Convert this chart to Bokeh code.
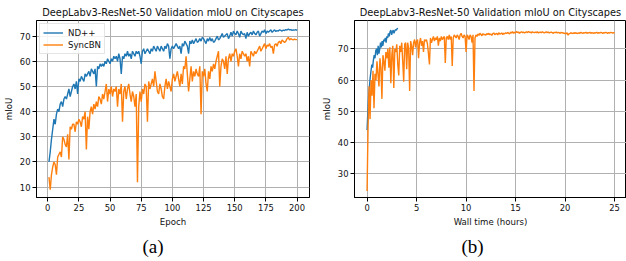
import numpy as np
from bokeh.plotting import figure
from bokeh.layouts import row
from bokeh.models import Range1d, FixedTicker, Title
from bokeh.embed import file_html
from bokeh.resources import INLINE

# ---------------- data ----------------
title_text = "DeepLabv3-ResNet-50 Validation mIoU on Cityscapes"

epochs = list(range(1, 201))

nd_epoch = [
    20, 24, 29, 33, 37, 35, 39, 41, 40, 43,
    44, 42, 45, 46, 45, 47, 49, 46, 48, 50,
    51, 49, 52, 47, 53, 52, 54, 53, 52, 55,
    54, 55, 56, 54, 57, 56, 55, 57, 50, 58,
    57, 59, 58, 59, 58, 60, 59, 61, 60, 59,
    61, 60, 62, 61, 62, 60, 63, 61, 55, 62,
    61, 63, 62, 64, 62, 63, 61, 64, 63, 62,
    64, 63, 64, 62, 59, 64, 65, 63, 64, 65,
    64, 63, 65, 64, 66, 65, 64, 66, 65, 64,
    66, 65, 64, 66, 65, 67, 66, 61, 65, 66,
    65, 66, 67, 66, 65, 66, 63, 67, 66, 68,
    67, 66, 63, 68, 67, 68.5, 67, 68, 69, 67.5,
    68, 69, 68, 69.5, 69, 68, 67, 69, 68, 69.5,
    68, 69, 67.5, 68, 69, 70, 68.5, 69, 70, 71,
    69.5, 70, 70.5, 71, 69, 70, 71.5, 70, 72, 71,
    70.5, 72, 71, 69.5, 72, 71, 70.5, 71, 69, 71.5,
    70, 71, 71.5, 70.5, 72, 71, 70.5, 71.5, 72, 70,
    71, 72, 71.5, 72.5, 71, 72, 71.5, 72, 72.5, 71.5,
    72, 72.5, 71.8, 72.2, 72, 72.5, 72.3, 72, 72.4, 72.2,
    72.6, 72.4, 72.8, 72.5, 72.6, 72.3, 72.5, 72.4, 72.6, 72.3,
]

sync_epoch = [
    14, 9, 15, 18, 20, 19, 15, 22, 23, 24,
    22, 30, 29, 27, 26, 31, 21, 34, 33, 35,
    35, 32, 36, 35, 37, 36, 34, 38, 37, 40,
    25, 38, 33, 40, 42, 39, 43, 41, 44, 42,
    46, 45, 43, 47, 45, 48, 51, 44, 49, 47,
    50, 46, 49, 48, 50, 42, 49, 47, 51, 36,
    48, 50, 45, 49, 51, 47, 44, 48, 46, 42,
    47, 12, 42, 48, 44, 49, 47, 51, 50, 36,
    52, 49, 51, 53, 50, 56, 52, 48, 47, 51,
    49, 46, 45, 50, 53, 49, 52, 50, 48, 53,
    55, 52, 54, 56, 53, 50, 55, 51, 58, 57,
    62, 55, 48, 53, 58, 52, 56, 54, 57, 55,
    54, 58, 39, 56, 54, 57, 51, 48, 56, 53,
    58, 56, 59, 57, 60, 62, 64, 50, 58, 61,
    60, 57, 62, 55, 61, 63, 60, 63, 62, 64,
    65, 62, 58, 63, 61, 64, 63, 62, 63, 60,
    62, 58, 64, 63, 62, 64, 63, 64, 65, 66,
    64, 65, 66, 67, 65, 66.5, 66, 67, 65.5, 66,
    63, 66.5, 67, 66, 67.5, 68, 67, 68.5, 68, 67.5,
    68, 69, 69.5, 68.5, 69, 68.7, 68.5, 68.8, 68.6, 68.6,
]

nd_hours = [
    0.00, 0.08, 0.16, 0.24, 0.32, 0.40, 0.48, 0.56, 0.64, 0.72,
    0.80, 0.88, 0.96, 1.04, 1.12, 1.20, 1.28, 1.36, 1.44, 1.52,
    1.60, 1.68, 1.76, 1.84, 1.92, 2.00, 2.08, 2.16, 2.24, 2.32,
    2.40, 2.48, 2.56, 2.64, 2.72, 2.80, 2.88, 2.96, 3.04, 3.12,
]
nd_time = [
    44, 50, 55, 58, 61, 63, 65, 64, 66.5, 68,
    67, 69.5, 70, 68, 71, 68.5, 70, 72, 70.5, 72.5,
    71, 73, 72.5, 73.5, 72, 74, 73.5, 75, 74, 75.5,
    76, 74.5, 75.5, 76, 75, 75.8, 76.2, 76, 76.5, 76.6,
]

sync_time = [
    24.5, 45, 58, 47.5, 60, 55, 63, 51, 62, 60,
    66, 62, 58, 67, 64, 54, 68, 66, 63, 69,
    67, 70, 64, 70.5, 59, 68, 71, 57.5, 70, 69,
    71.5, 65, 61.5, 71, 69, 72, 66, 59.5, 71.5, 72,
    63.5, 72, 70, 56.5, 72.5, 71, 68, 72, 73, 70.5,
    72.5, 73, 67, 72, 73.5, 71, 72.5, 69, 73, 72.5,
    73, 71.5, 68.5, 65, 73.5, 72, 73, 74, 72.5, 73.5,
    73, 74, 71, 73.5, 72.5, 74, 73, 73.5, 74, 65.5,
    73.5, 74, 73, 74.5, 73, 74, 64.5, 73.5, 74.5, 74,
    73.5, 74.5, 74, 73, 74.5, 75, 74, 73.5, 74.5, 74,
    69, 74.5, 74, 73, 74.5, 74, 72, 74.5, 56.5, 73.5,
    74.5, 74, 74.8, 74.3, 75, 74.6, 74.2, 74.9, 74.5, 74.7,
    74.4, 74.9, 74.6, 75, 74.5, 74.8, 74.3, 74.9, 75.1, 74.6,
    74.8, 75, 74.5, 75.2, 74.7, 74.9, 75.1, 74.6, 75, 74.8,
    75.2, 74.9, 75.3, 75, 74.8, 75.4, 75.1, 75.5, 75, 75.3,
    75.1, 75.6, 75.2, 75.4, 75, 75.3, 75.5, 75.2, 75.4, 75.1,
    75.3, 75.5, 75.2, 75.6, 75.3, 75.4, 75.1, 75.5, 75.3, 75.2,
    75.4, 75.2, 75.5, 75.1, 75.3, 75.4, 75.2, 75.5, 75.3, 75.1,
    75.3, 75.5, 75.2, 75.4, 75.1, 75.3, 75.4, 75.2, 75, 75.3,
    75.2, 75.4, 75.1, 75.3, 75.2, 75, 75.3, 75.1, 75.2, 74.9,
    75.1, 74.8, 75.2, 74.4, 74.9, 75, 75.2, 74.9, 75.1, 75,
    75.2, 75, 75.1, 74.9, 75.2, 75, 75.3, 75.1, 75, 75.2,
    75.1, 75.3, 75, 75.2, 75.1, 75.3, 75, 75.2, 75.1, 75,
    75.2, 75.1, 75.3, 75, 75.2, 75.1, 75.3, 75.2, 75, 75.2,
    75.1, 75.3, 75.2, 75, 75.2, 75.1, 75.3, 75.2, 75.1, 75.2,
    75.1,
]
sync_hours = list(np.round(np.arange(len(sync_time)) * 0.1, 2))

xticks_a = [0, 25, 50, 75, 100, 125, 150, 175, 200]
yticks_a = [10, 20, 30, 40, 50, 60, 70]
xticks_b = [0, 5, 10, 15, 20, 25]
yticks_b = [30, 40, 50, 60, 70]

BLUE = "#1f77b4"
ORANGE = "#ff7f0e"
FONT = "DejaVu Sans"
HEIGHT = 261


def make_fig(width, xr, yr, xticks, yticks, xlabel, caption, cap_offset, left, right):
    p = figure(width=width, height=HEIGHT, x_range=Range1d(*xr), y_range=Range1d(*yr),
               output_backend="svg", toolbar_location=None,
               min_border_left=left, min_border_right=right,
               min_border_top=20, min_border_bottom=64)
    p.title.text = title_text
    p.title.text_font = FONT
    p.title.text_font_size = "9.8px"
    p.title.text_font_style = "normal"
    p.title.align = "center"
    p.title.standoff = 6
    p.title.text_color = "#111111"
    p.outline_line_color = "black"
    p.outline_line_width = 1
    p.background_fill_color = "white"
    p.border_fill_color = "white"
    for ax, ticks in ((p.xaxis[0], xticks), (p.yaxis[0], yticks)):
        ax.ticker = FixedTicker(ticks=ticks)
        ax.major_label_text_font = FONT
        ax.major_label_text_font_size = "8.4px"
        ax.major_label_text_color = "#111111"
        ax.axis_label_text_font = FONT
        ax.axis_label_text_font_size = "8.6px"
        ax.axis_label_text_font_style = "normal"
        ax.axis_label_text_color = "#111111"
        ax.major_tick_out = 4
        ax.major_tick_in = 0
        ax.minor_tick_line_color = None
        ax.axis_line_color = "black"
        ax.major_tick_line_color = "black"
        ax.major_label_standoff = 2
        ax.axis_label_standoff = 3
    p.xaxis.axis_label = xlabel
    p.yaxis.axis_label = "mIoU"
    p.xgrid.grid_line_color = "#b0b0b0"
    p.ygrid.grid_line_color = "#b0b0b0"
    p.xgrid.grid_line_width = 1
    p.ygrid.grid_line_width = 1
    cap = Title(text=caption, align="left", text_font="Liberation Serif",
                text_font_size="19px", text_font_style="normal", text_color="black",
                offset=cap_offset, standoff=9)
    p.add_layout(cap, "below")
    return p


p1 = make_fig(318, (-9, 210), (5.9, 76.2), xticks_a, yticks_a, "Epoch", "(a)", 106, 36, 9)
p1.line(epochs, nd_epoch, color=BLUE, line_width=1.4, legend_label="ND++")
p1.line(epochs, sync_epoch, color=ORANGE, line_width=1.4, legend_label="SyncBN")
lg = p1.legend[0]
lg.location = "top_left"
lg.margin = 3
lg.padding = 3
lg.spacing = 1
lg.glyph_width = 20
lg.glyph_height = 11
lg.label_height = 11
lg.label_standoff = 5
lg.label_text_font = FONT
lg.label_text_font_size = "8.6px"
lg.label_text_color = "#111111"
lg.border_line_color = "#cccccc"
lg.border_line_width = 1
lg.background_fill_alpha = 0.85

p2 = make_fig(308, (-1.27, 26.2), (22.4, 79.1), xticks_b, yticks_b, "Wall time (hours)", "(b)", 107, 36, 0)
p2.line(nd_hours, nd_time, color=BLUE, line_width=1.4)
p2.line(sync_hours, sync_time, color=ORANGE, line_width=1.4)

layout = row(p1, p2)
open("out.html", "w").write(file_html(layout, INLINE))
